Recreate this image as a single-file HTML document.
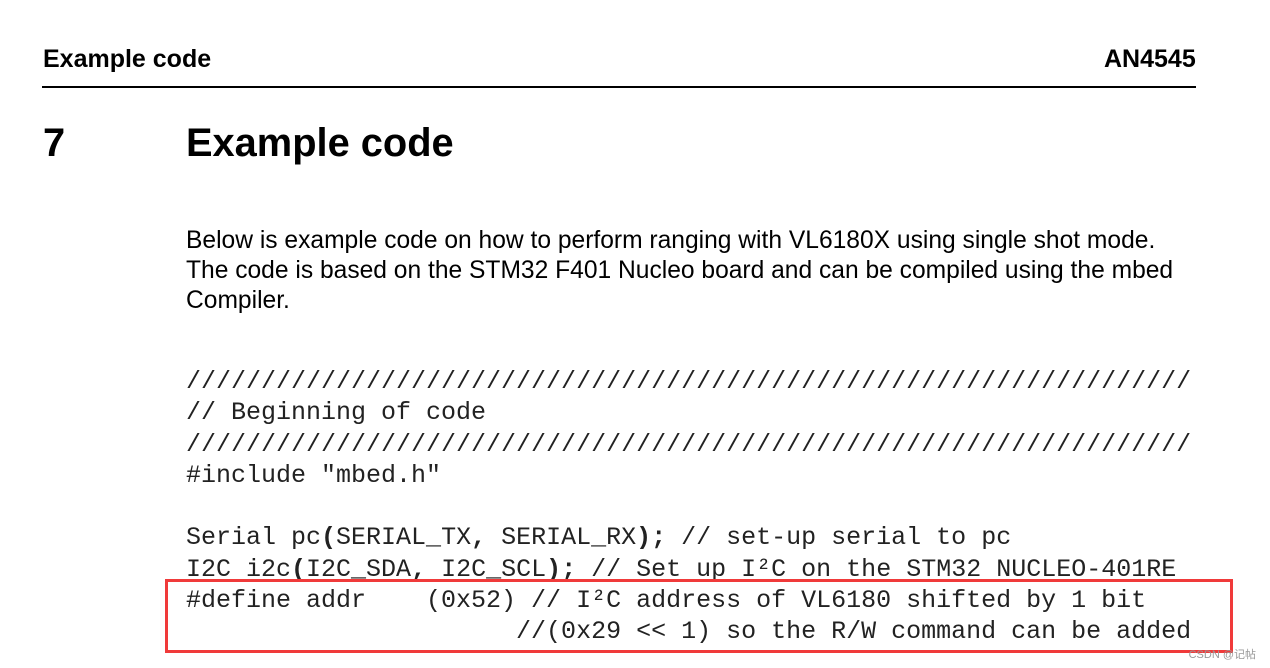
<!DOCTYPE html>
<html><head><meta charset="utf-8">
<style>
html,body{margin:0;padding:0;background:#fff;}
body{width:1270px;height:668px;position:relative;overflow:hidden;font-family:"Liberation Sans",Arial,sans-serif;color:#000;}
.abs{position:absolute;white-space:pre;}
.hdr{font-weight:bold;font-size:25px;top:45px;}
.rule{position:absolute;left:42px;top:86px;width:1154px;height:2px;background:#000;}
.h1{font-weight:bold;font-size:39.8px;top:121px;}
.p{font-size:24.6px;left:186px;line-height:30px;top:226px;}
.code{font-family:"Liberation Mono","Courier New",monospace;font-size:25px;left:186px;line-height:31.3px;top:366px;color:#222;}
.code b{font-weight:bold;}
.box{position:absolute;left:165px;top:579px;width:1062px;height:68px;border:3px solid #f03a3a;}
.wm{font-size:11px;color:#999;right:14px;top:646px;font-family:"Liberation Sans","Noto Sans CJK SC",sans-serif;}
</style></head><body>
<div class="abs hdr" style="left:43px">Example code</div>
<div class="abs hdr" style="left:1104px">AN4545</div>
<div class="rule"></div>
<div class="abs h1" style="left:43px">7</div>
<div class="abs h1" style="left:186px">Example code</div>
<div class="abs p">Below is example code on how to perform ranging with VL6180X using single shot mode.
The code is based on the STM32 F401 Nucleo board and can be compiled using the mbed
Compiler.</div>
<div class="abs code">///////////////////////////////////////////////////////////////////
// Beginning of code
///////////////////////////////////////////////////////////////////
#include "mbed.h"

Serial pc<b>(</b>SERIAL_TX<b>,</b> SERIAL_RX<b>);</b> // set-up serial to pc
I2C i2c<b>(</b>I2C_SDA<b>,</b> I2C_SCL<b>);</b> // Set up I²C on the STM32 NUCLEO-401RE
#define addr    (0x52) // I²C address of VL6180 shifted by 1 bit
                      //(0x29 &lt;&lt; 1) so the R/W command can be added</div>
<div class="box"></div>
<div class="abs wm">CSDN @记帖</div>
</body></html>
